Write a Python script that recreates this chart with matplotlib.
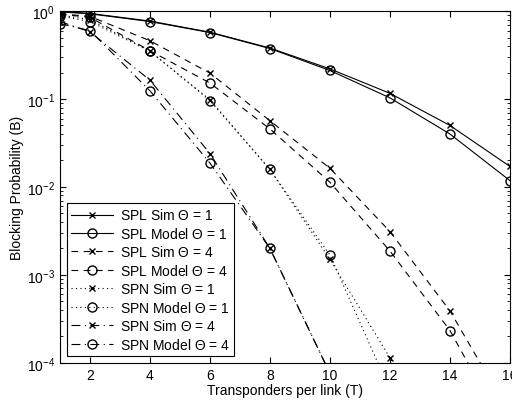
import numpy as np
import matplotlib
matplotlib.use("Agg")
import matplotlib.pyplot as plt

plt.rcParams['font.family'] = ['Liberation Sans', 'DejaVu Sans']
plt.rcParams['mathtext.default'] = 'regular'
plt.rcParams['font.size'] = 10

T = [1, 2, 4, 6, 8, 10, 12, 14, 16]

# SPL, Theta = 1
spl_sim_1 = [0.99, 0.94, 0.77, 0.575, 0.38, 0.22, 0.116, 0.050, 0.0171]
spl_mod_1 = [0.98, 0.93, 0.76, 0.57, 0.375, 0.211, 0.103, 0.040, 0.0118]
# SPL, Theta = 4
spl_sim_4 = [0.93, 0.87, 0.46, 0.197, 0.0566, 0.0163, 0.00311, 0.00039, 0.000026]
spl_mod_4 = [0.92, 0.85, 0.354, 0.152, 0.0457, 0.0113, 0.00187, 0.000233, 0.0000135]
# SPN, Theta = 1
spn_sim_1 = [0.9, 0.8, 0.35, 0.098, 0.0158, 0.0015, 0.000114, 0.000008, 0.0000005]
spn_mod_1 = [0.88, 0.76, 0.35, 0.096, 0.0158, 0.00168, 0.000049, 0.000003, 0.0000002]
# SPN, Theta = 4
spn_sim_4 = [0.76, 0.58, 0.164, 0.024, 0.0020, 0.000076, 0.000002, 0.0000001, 0.00000001]
spn_mod_4 = [0.72, 0.6, 0.124, 0.0187, 0.0020, 0.000076, 0.000002, 0.0000001, 0.00000001]

labels = ['SPL Sim $\\Theta$ = 1', 'SPL Model $\\Theta$ = 1',
          'SPL Sim $\\Theta$ = 4', 'SPL Model $\\Theta$ = 4',
          'SPN Sim $\\Theta$ = 1', 'SPN Model $\\Theta$ = 1',
          'SPN Sim $\\Theta$ = 4', 'SPN Model $\\Theta$ = 4']

fig = plt.figure(figsize=(5.12, 4.02), dpi=100)
ax = fig.add_axes([0.117, 0.095, 0.879, 0.875])

lw = 0.8
ax.plot(T, spl_sim_1, 'k-x', lw=lw, ms=5, label=labels[0])
ax.plot(T, spl_mod_1, 'k-o', lw=lw, ms=6.5, mfc='none', label=labels[1])
ax.plot(T, spl_sim_4, 'k--x', lw=lw, ms=5, dashes=(6, 5), label=labels[2])
ax.plot(T, spl_mod_4, 'k--o', lw=lw, ms=6.5, mfc='none', dashes=(6, 5), label=labels[3])
ax.plot(T, spn_sim_1, 'k:x', lw=lw, ms=5, dashes=(1, 3), label=labels[4])
ax.plot(T, spn_mod_1, 'k:o', lw=lw, ms=6.5, mfc='none', dashes=(1, 3), label=labels[5])
ax.plot(T, spn_sim_4, 'k-.x', lw=lw, ms=5, dashes=(8, 4, 1, 4), label=labels[6])
ax.plot(T, spn_mod_4, 'k-.o', lw=lw, ms=6.5, mfc='none', dashes=(8, 4, 1, 4), label=labels[7])

ax.set_yscale('log')
ax.set_xlim(1, 16)
ax.set_ylim(1e-4, 1)
ax.set_xticks([2, 4, 6, 8, 10, 12, 14, 16])
ax.tick_params(which='both', direction='in', top=True, right=True)
ax.tick_params(which='major', length=4)
ax.tick_params(which='minor', length=2)
ax.set_xlabel('Transponders per link (T)', labelpad=1)
ax.set_ylabel('Blocking Probability (B)', labelpad=2)

leg = ax.legend(loc='lower left', fancybox=False, edgecolor='k', framealpha=1,
                handlelength=3.0, borderaxespad=0.5, labelspacing=0.25,
                borderpad=0.3, handletextpad=0.5)
leg.get_frame().set_linewidth(0.8)

fig.savefig('out.png', dpi=100)
